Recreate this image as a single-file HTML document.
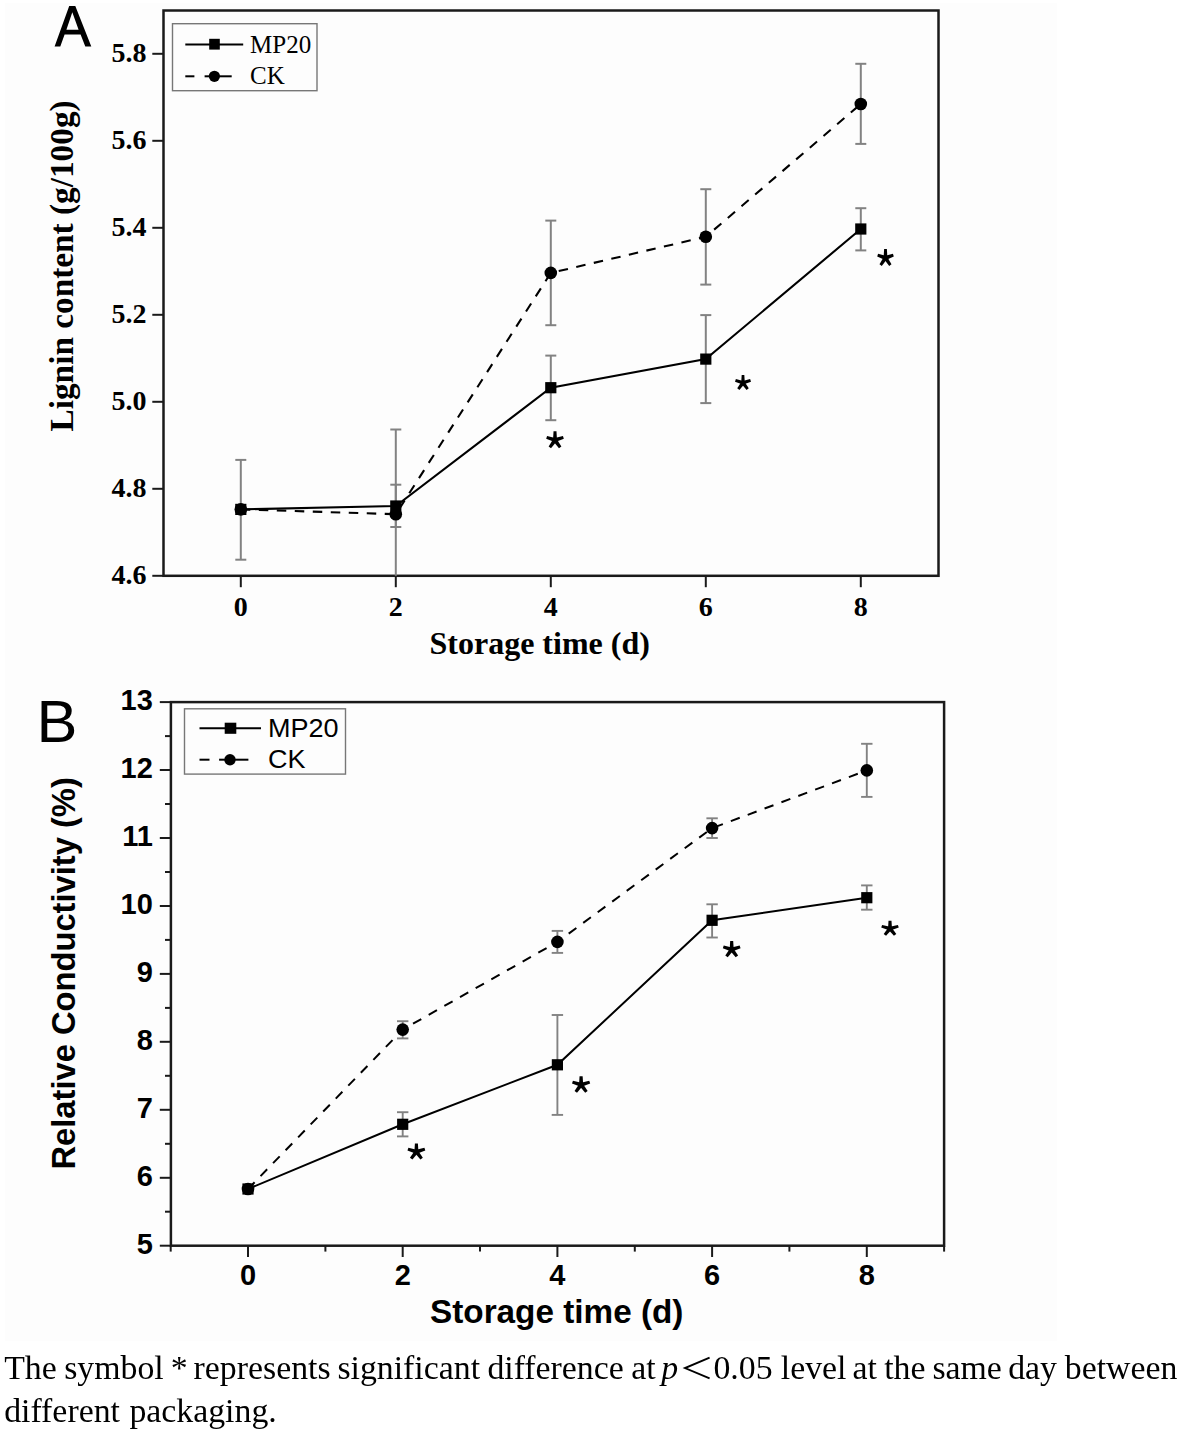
<!DOCTYPE html>
<html><head><meta charset="utf-8"><title>Figure</title>
<style>
html,body{margin:0;padding:0;background:#fff;}
svg{display:block;filter:blur(0.4px);}
.serif{font-family:"Liberation Serif",serif;}
.sans{font-family:"Liberation Sans",sans-serif;}
.b{font-weight:bold;}
text{fill:#000;}
</style></head>
<body>
<svg width="1180" height="1434" viewBox="0 0 1180 1434">
<defs><g id="ast" fill="#000"><polygon points="-1.5,-8.9 1.5,-8.9 2.0,-0.5 -2.0,-0.5"/><polygon points="-1.5,-8.9 1.5,-8.9 2.0,-0.5 -2.0,-0.5" transform="rotate(72)"/><polygon points="-1.5,-8.9 1.5,-8.9 2.0,-0.5 -2.0,-0.5" transform="rotate(144)"/><polygon points="-1.5,-8.9 1.5,-8.9 2.0,-0.5 -2.0,-0.5" transform="rotate(216)"/><polygon points="-1.5,-8.9 1.5,-8.9 2.0,-0.5 -2.0,-0.5" transform="rotate(288)"/><circle r="2.4"/></g></defs>
<rect x="5" y="3" width="1052" height="1338" fill="#fdfdfd"/>
<path fill="#000" fill-rule="evenodd" d="M54.6,46.6 L69.2,6.1 L75.3,6.1 L91.3,46.6 L85.3,46.6 L80.6,34.6 L64.6,34.6 L60.3,46.6 Z M66.4,29.8 L78.6,29.8 L72.3,12.2 Z"/>
<rect x="163.5" y="10.5" width="775.0" height="565.3" fill="none" stroke="#1a1a1a" stroke-width="2.5"/>
<line x1="152.3" y1="575.8" x2="163.5" y2="575.8" stroke="#1a1a1a" stroke-width="2"/>
<text x="146.5" y="584.4" class="serif b" font-size="28" text-anchor="end">4.6</text>
<line x1="152.3" y1="488.8" x2="163.5" y2="488.8" stroke="#1a1a1a" stroke-width="2"/>
<text x="146.5" y="497.4" class="serif b" font-size="28" text-anchor="end">4.8</text>
<line x1="152.3" y1="401.8" x2="163.5" y2="401.8" stroke="#1a1a1a" stroke-width="2"/>
<text x="146.5" y="410.4" class="serif b" font-size="28" text-anchor="end">5.0</text>
<line x1="152.3" y1="314.8" x2="163.5" y2="314.8" stroke="#1a1a1a" stroke-width="2"/>
<text x="146.5" y="323.4" class="serif b" font-size="28" text-anchor="end">5.2</text>
<line x1="152.3" y1="227.8" x2="163.5" y2="227.8" stroke="#1a1a1a" stroke-width="2"/>
<text x="146.5" y="236.4" class="serif b" font-size="28" text-anchor="end">5.4</text>
<line x1="152.3" y1="140.8" x2="163.5" y2="140.8" stroke="#1a1a1a" stroke-width="2"/>
<text x="146.5" y="149.4" class="serif b" font-size="28" text-anchor="end">5.6</text>
<line x1="152.3" y1="53.8" x2="163.5" y2="53.8" stroke="#1a1a1a" stroke-width="2"/>
<text x="146.5" y="62.4" class="serif b" font-size="28" text-anchor="end">5.8</text>
<line x1="240.8" y1="575.8" x2="240.8" y2="587.2" stroke="#1a1a1a" stroke-width="2"/>
<text x="240.8" y="616.3" class="serif b" font-size="28" text-anchor="middle">0</text>
<line x1="395.8" y1="575.8" x2="395.8" y2="587.2" stroke="#1a1a1a" stroke-width="2"/>
<text x="395.8" y="616.3" class="serif b" font-size="28" text-anchor="middle">2</text>
<line x1="550.8" y1="575.8" x2="550.8" y2="587.2" stroke="#1a1a1a" stroke-width="2"/>
<text x="550.8" y="616.3" class="serif b" font-size="28" text-anchor="middle">4</text>
<line x1="705.8" y1="575.8" x2="705.8" y2="587.2" stroke="#1a1a1a" stroke-width="2"/>
<text x="705.8" y="616.3" class="serif b" font-size="28" text-anchor="middle">6</text>
<line x1="860.8" y1="575.8" x2="860.8" y2="587.2" stroke="#1a1a1a" stroke-width="2"/>
<text x="860.8" y="616.3" class="serif b" font-size="28" text-anchor="middle">8</text>
<text x="429.5" y="654.2" class="serif b" font-size="32">Storage time (d)</text>
<text transform="translate(72.7,431.5) rotate(-90)" class="serif b" font-size="33.3">Lignin content (g/100g)</text>
<line x1="240.8" y1="459.9" x2="240.8" y2="559.7" stroke="#828282" stroke-width="2"/>
<line x1="235.3" y1="459.9" x2="246.3" y2="459.9" stroke="#828282" stroke-width="2"/>
<line x1="235.3" y1="559.7" x2="246.3" y2="559.7" stroke="#828282" stroke-width="2"/>
<line x1="395.8" y1="429.5" x2="395.8" y2="575.8" stroke="#828282" stroke-width="2"/>
<line x1="390.3" y1="429.5" x2="401.3" y2="429.5" stroke="#828282" stroke-width="2"/>
<line x1="395.8" y1="484.7" x2="395.8" y2="527" stroke="#828282" stroke-width="2"/>
<line x1="390.3" y1="484.7" x2="401.3" y2="484.7" stroke="#828282" stroke-width="2"/>
<line x1="390.3" y1="527" x2="401.3" y2="527" stroke="#828282" stroke-width="2"/>
<line x1="550.8" y1="220.6" x2="550.8" y2="325.2" stroke="#828282" stroke-width="2"/>
<line x1="545.3" y1="220.6" x2="556.3" y2="220.6" stroke="#828282" stroke-width="2"/>
<line x1="545.3" y1="325.2" x2="556.3" y2="325.2" stroke="#828282" stroke-width="2"/>
<line x1="550.8" y1="355.6" x2="550.8" y2="420.2" stroke="#828282" stroke-width="2"/>
<line x1="545.3" y1="355.6" x2="556.3" y2="355.6" stroke="#828282" stroke-width="2"/>
<line x1="545.3" y1="420.2" x2="556.3" y2="420.2" stroke="#828282" stroke-width="2"/>
<line x1="705.8" y1="189.2" x2="705.8" y2="284.6" stroke="#828282" stroke-width="2"/>
<line x1="700.3" y1="189.2" x2="711.3" y2="189.2" stroke="#828282" stroke-width="2"/>
<line x1="700.3" y1="284.6" x2="711.3" y2="284.6" stroke="#828282" stroke-width="2"/>
<line x1="705.8" y1="315.1" x2="705.8" y2="403.1" stroke="#828282" stroke-width="2"/>
<line x1="700.3" y1="315.1" x2="711.3" y2="315.1" stroke="#828282" stroke-width="2"/>
<line x1="700.3" y1="403.1" x2="711.3" y2="403.1" stroke="#828282" stroke-width="2"/>
<line x1="860.8" y1="63.8" x2="860.8" y2="143.9" stroke="#828282" stroke-width="2"/>
<line x1="855.3" y1="63.8" x2="866.3" y2="63.8" stroke="#828282" stroke-width="2"/>
<line x1="855.3" y1="143.9" x2="866.3" y2="143.9" stroke="#828282" stroke-width="2"/>
<line x1="860.8" y1="208.2" x2="860.8" y2="250.4" stroke="#828282" stroke-width="2"/>
<line x1="855.3" y1="208.2" x2="866.3" y2="208.2" stroke="#828282" stroke-width="2"/>
<line x1="855.3" y1="250.4" x2="866.3" y2="250.4" stroke="#828282" stroke-width="2"/>
<polyline points="240.8,509.4 395.8,514.2 550.8,272.9 705.8,236.8 860.8,104" fill="none" stroke="#000" stroke-width="2.1" stroke-dasharray="9.5 8.5"/>
<polyline points="240.8,509.4 395.8,506 550.8,387.7 705.8,359.1 860.8,229" fill="none" stroke="#000" stroke-width="2.1"/>
<circle cx="240.8" cy="509.4" r="6.3" fill="#000"/>
<circle cx="395.8" cy="514.2" r="6.3" fill="#000"/>
<circle cx="550.8" cy="272.9" r="6.3" fill="#000"/>
<circle cx="705.8" cy="236.8" r="6.3" fill="#000"/>
<circle cx="860.8" cy="104" r="6.3" fill="#000"/>
<rect x="235.2" y="503.8" width="11.2" height="11.2" fill="#000"/>
<rect x="390.2" y="500.4" width="11.2" height="11.2" fill="#000"/>
<rect x="545.2" y="382.1" width="11.2" height="11.2" fill="#000"/>
<rect x="700.2" y="353.5" width="11.2" height="11.2" fill="#000"/>
<rect x="855.2" y="223.4" width="11.2" height="11.2" fill="#000"/>
<use href="#ast" transform="translate(555.0,440.1) scale(0.989,0.994)"/>
<use href="#ast" transform="translate(743.0,382.8) scale(0.894,0.880)"/>
<use href="#ast" transform="translate(885.5,257.9) scale(0.928,1.011)"/>
<rect x="172.5" y="23.7" width="144.5" height="67" fill="#fdfdfd" stroke="#777" stroke-width="1.4"/>
<line x1="185.3" y1="44.4" x2="243.2" y2="44.4" stroke="#000" stroke-width="2"/>
<rect x="209.2" y="38.8" width="10.6" height="10.8" fill="#000"/>
<text x="250" y="52.9" class="serif" font-size="25">MP20</text>
<line x1="185.3" y1="76.3" x2="194.4" y2="76.3" stroke="#000" stroke-width="2"/>
<line x1="204.6" y1="76.3" x2="231.7" y2="76.3" stroke="#000" stroke-width="2"/>
<circle cx="214.4" cy="76.3" r="5.6" fill="#000"/>
<text x="250" y="84.2" class="serif" font-size="25">CK</text>
<text x="0" y="0" class="sans" font-size="59" transform="translate(36.4,741.6) scale(1.04,1)">B</text>
<rect x="170.9" y="702.1" width="773.2" height="543.6" fill="none" stroke="#1a1a1a" stroke-width="2.5"/>
<line x1="159.8" y1="1245.7" x2="170.9" y2="1245.7" stroke="#1a1a1a" stroke-width="2"/>
<text x="152.8" y="1253.9" class="sans b" font-size="29" text-anchor="end">5</text>
<line x1="165" y1="1211.7" x2="170.9" y2="1211.7" stroke="#1a1a1a" stroke-width="2"/>
<line x1="159.8" y1="1177.8" x2="170.9" y2="1177.8" stroke="#1a1a1a" stroke-width="2"/>
<text x="152.8" y="1186.0" class="sans b" font-size="29" text-anchor="end">6</text>
<line x1="165" y1="1143.8" x2="170.9" y2="1143.8" stroke="#1a1a1a" stroke-width="2"/>
<line x1="159.8" y1="1109.8" x2="170.9" y2="1109.8" stroke="#1a1a1a" stroke-width="2"/>
<text x="152.8" y="1118.0" class="sans b" font-size="29" text-anchor="end">7</text>
<line x1="165" y1="1075.8" x2="170.9" y2="1075.8" stroke="#1a1a1a" stroke-width="2"/>
<line x1="159.8" y1="1041.8" x2="170.9" y2="1041.8" stroke="#1a1a1a" stroke-width="2"/>
<text x="152.8" y="1050.0" class="sans b" font-size="29" text-anchor="end">8</text>
<line x1="165" y1="1007.9" x2="170.9" y2="1007.9" stroke="#1a1a1a" stroke-width="2"/>
<line x1="159.8" y1="973.9" x2="170.9" y2="973.9" stroke="#1a1a1a" stroke-width="2"/>
<text x="152.8" y="982.1" class="sans b" font-size="29" text-anchor="end">9</text>
<line x1="165" y1="939.9" x2="170.9" y2="939.9" stroke="#1a1a1a" stroke-width="2"/>
<line x1="159.8" y1="906.0" x2="170.9" y2="906.0" stroke="#1a1a1a" stroke-width="2"/>
<text x="152.8" y="914.2" class="sans b" font-size="29" text-anchor="end">10</text>
<line x1="165" y1="872.0" x2="170.9" y2="872.0" stroke="#1a1a1a" stroke-width="2"/>
<line x1="159.8" y1="838.0" x2="170.9" y2="838.0" stroke="#1a1a1a" stroke-width="2"/>
<text x="152.8" y="846.2" class="sans b" font-size="29" text-anchor="end">11</text>
<line x1="165" y1="804.0" x2="170.9" y2="804.0" stroke="#1a1a1a" stroke-width="2"/>
<line x1="159.8" y1="770.0" x2="170.9" y2="770.0" stroke="#1a1a1a" stroke-width="2"/>
<text x="152.8" y="778.2" class="sans b" font-size="29" text-anchor="end">12</text>
<line x1="165" y1="736.1" x2="170.9" y2="736.1" stroke="#1a1a1a" stroke-width="2"/>
<line x1="159.8" y1="702.1" x2="170.9" y2="702.1" stroke="#1a1a1a" stroke-width="2"/>
<text x="152.8" y="710.3" class="sans b" font-size="29" text-anchor="end">13</text>
<line x1="170.7" y1="1245.7" x2="170.7" y2="1251.6" stroke="#1a1a1a" stroke-width="2"/>
<line x1="248.0" y1="1245.7" x2="248.0" y2="1257" stroke="#1a1a1a" stroke-width="2"/>
<text x="248.0" y="1285.2" class="sans b" font-size="29" text-anchor="middle">0</text>
<line x1="325.4" y1="1245.7" x2="325.4" y2="1251.6" stroke="#1a1a1a" stroke-width="2"/>
<line x1="402.7" y1="1245.7" x2="402.7" y2="1257" stroke="#1a1a1a" stroke-width="2"/>
<text x="402.7" y="1285.2" class="sans b" font-size="29" text-anchor="middle">2</text>
<line x1="480.0" y1="1245.7" x2="480.0" y2="1251.6" stroke="#1a1a1a" stroke-width="2"/>
<line x1="557.4" y1="1245.7" x2="557.4" y2="1257" stroke="#1a1a1a" stroke-width="2"/>
<text x="557.4" y="1285.2" class="sans b" font-size="29" text-anchor="middle">4</text>
<line x1="634.8" y1="1245.7" x2="634.8" y2="1251.6" stroke="#1a1a1a" stroke-width="2"/>
<line x1="712.1" y1="1245.7" x2="712.1" y2="1257" stroke="#1a1a1a" stroke-width="2"/>
<text x="712.1" y="1285.2" class="sans b" font-size="29" text-anchor="middle">6</text>
<line x1="789.4" y1="1245.7" x2="789.4" y2="1251.6" stroke="#1a1a1a" stroke-width="2"/>
<line x1="866.8" y1="1245.7" x2="866.8" y2="1257" stroke="#1a1a1a" stroke-width="2"/>
<text x="866.8" y="1285.2" class="sans b" font-size="29" text-anchor="middle">8</text>
<line x1="944.1" y1="1245.7" x2="944.1" y2="1251.6" stroke="#1a1a1a" stroke-width="2"/>
<text x="430" y="1322.5" class="sans b" font-size="33.3">Storage time (d)</text>
<text transform="translate(74.5,1169.5) rotate(-90)" class="sans b" font-size="32.7">Relative Conductivity (%)</text>
<line x1="402.7" y1="1021.2" x2="402.7" y2="1038.4" stroke="#828282" stroke-width="1.9"/>
<line x1="397.0" y1="1021.2" x2="408.4" y2="1021.2" stroke="#828282" stroke-width="1.9"/>
<line x1="397.0" y1="1038.4" x2="408.4" y2="1038.4" stroke="#828282" stroke-width="1.9"/>
<line x1="402.7" y1="1112.2" x2="402.7" y2="1136.4" stroke="#828282" stroke-width="1.9"/>
<line x1="397.0" y1="1112.2" x2="408.4" y2="1112.2" stroke="#828282" stroke-width="1.9"/>
<line x1="397.0" y1="1136.4" x2="408.4" y2="1136.4" stroke="#828282" stroke-width="1.9"/>
<line x1="557.4" y1="930.9" x2="557.4" y2="952.9" stroke="#828282" stroke-width="1.9"/>
<line x1="551.7" y1="930.9" x2="563.1" y2="930.9" stroke="#828282" stroke-width="1.9"/>
<line x1="551.7" y1="952.9" x2="563.1" y2="952.9" stroke="#828282" stroke-width="1.9"/>
<line x1="557.4" y1="1015" x2="557.4" y2="1114.9" stroke="#828282" stroke-width="1.9"/>
<line x1="551.7" y1="1015" x2="563.1" y2="1015" stroke="#828282" stroke-width="1.9"/>
<line x1="551.7" y1="1114.9" x2="563.1" y2="1114.9" stroke="#828282" stroke-width="1.9"/>
<line x1="712.1" y1="818.3" x2="712.1" y2="838" stroke="#828282" stroke-width="1.9"/>
<line x1="706.4" y1="818.3" x2="717.8" y2="818.3" stroke="#828282" stroke-width="1.9"/>
<line x1="706.4" y1="838" x2="717.8" y2="838" stroke="#828282" stroke-width="1.9"/>
<line x1="712.1" y1="904.3" x2="712.1" y2="937.5" stroke="#828282" stroke-width="1.9"/>
<line x1="706.4" y1="904.3" x2="717.8" y2="904.3" stroke="#828282" stroke-width="1.9"/>
<line x1="706.4" y1="937.5" x2="717.8" y2="937.5" stroke="#828282" stroke-width="1.9"/>
<line x1="866.8" y1="743.8" x2="866.8" y2="796.9" stroke="#828282" stroke-width="1.9"/>
<line x1="861.1" y1="743.8" x2="872.5" y2="743.8" stroke="#828282" stroke-width="1.9"/>
<line x1="861.1" y1="796.9" x2="872.5" y2="796.9" stroke="#828282" stroke-width="1.9"/>
<line x1="866.8" y1="885.4" x2="866.8" y2="909.7" stroke="#828282" stroke-width="1.9"/>
<line x1="861.1" y1="885.4" x2="872.5" y2="885.4" stroke="#828282" stroke-width="1.9"/>
<line x1="861.1" y1="909.7" x2="872.5" y2="909.7" stroke="#828282" stroke-width="1.9"/>
<polyline points="248.0,1189 402.7,1029.6 557.4,941.9 712.1,828.1 866.8,770.4" fill="none" stroke="#000" stroke-width="2.0" stroke-dasharray="9.5 8.5"/>
<polyline points="248.0,1189 402.7,1124.3 557.4,1064.8 712.1,920.3 866.8,897.7" fill="none" stroke="#000" stroke-width="2.0"/>
<circle cx="248.0" cy="1189" r="6.3" fill="#000"/>
<circle cx="402.7" cy="1029.6" r="6.3" fill="#000"/>
<circle cx="557.4" cy="941.9" r="6.3" fill="#000"/>
<circle cx="712.1" cy="828.1" r="6.3" fill="#000"/>
<circle cx="866.8" cy="770.4" r="6.3" fill="#000"/>
<rect x="242.4" y="1183.4" width="11.2" height="11.2" fill="#000"/>
<rect x="397.1" y="1118.7" width="11.2" height="11.2" fill="#000"/>
<rect x="551.8" y="1059.2" width="11.2" height="11.2" fill="#000"/>
<rect x="706.5" y="914.7" width="11.2" height="11.2" fill="#000"/>
<rect x="861.2" y="892.1" width="11.2" height="11.2" fill="#000"/>
<use href="#ast" transform="translate(416.4,1151.8) scale(1.000,0.943)"/>
<use href="#ast" transform="translate(581.1,1084.8) scale(1.017,0.971)"/>
<use href="#ast" transform="translate(731.7,949.5) scale(0.994,0.954)"/>
<use href="#ast" transform="translate(890.0,928.6) scale(0.983,0.874)"/>
<rect x="184.5" y="708.8" width="161" height="65.3" fill="#fdfdfd" stroke="#777" stroke-width="1.4"/>
<line x1="199.5" y1="728.2" x2="261" y2="728.2" stroke="#000" stroke-width="2"/>
<rect x="224.7" y="722.7" width="11.6" height="11.1" fill="#000"/>
<text x="0" y="0" class="sans" font-size="25.5" transform="translate(268,737) scale(1.06,1)">MP20</text>
<line x1="199.5" y1="759.7" x2="209.5" y2="759.7" stroke="#000" stroke-width="2"/>
<line x1="219.1" y1="759.7" x2="248.4" y2="759.7" stroke="#000" stroke-width="2"/>
<circle cx="230" cy="759.7" r="5.7" fill="#000"/>
<text x="0" y="0" class="sans" font-size="25.5" transform="translate(268,768.4) scale(1.06,1)">CK</text>
<text x="4.2" y="1379.4" class="serif" font-size="33.8">The</text>
<text x="64.2" y="1379.4" class="serif" font-size="33.8">symbol</text>
<text x="170.8" y="1379.4" class="serif" font-size="33.8">*</text>
<text x="193.6" y="1379.4" class="serif" font-size="33.8">represents</text>
<text x="337.4" y="1379.4" class="serif" font-size="33.8">significant</text>
<text x="487.4" y="1379.4" class="serif" font-size="33.8">difference</text>
<text x="631.2" y="1379.4" class="serif" font-size="33.8">at</text>
<text x="713.4" y="1379.4" class="serif" font-size="33.8">0.05</text>
<text x="780.8" y="1379.4" class="serif" font-size="33.8">level</text>
<text x="852.6" y="1379.4" class="serif" font-size="33.8">at</text>
<text x="884.2" y="1379.4" class="serif" font-size="33.8">the</text>
<text x="932.4" y="1379.4" class="serif" font-size="33.8">same</text>
<text x="1008.2" y="1379.4" class="serif" font-size="33.8">day</text>
<text x="1064.8" y="1379.4" class="serif" font-size="33.8">between</text>
<text x="661.2" y="1379.4" class="serif" font-size="33.8" font-style="italic">p</text>
<path d="M709.6,1357.6 L685,1368 L709.6,1378.4" fill="none" stroke="#000" stroke-width="1.9"/>
<text x="4.2" y="1422" class="serif" font-size="33.8">different</text>
<text x="129.4" y="1422" class="serif" font-size="33.8">packaging.</text>
</svg>
</body></html>
